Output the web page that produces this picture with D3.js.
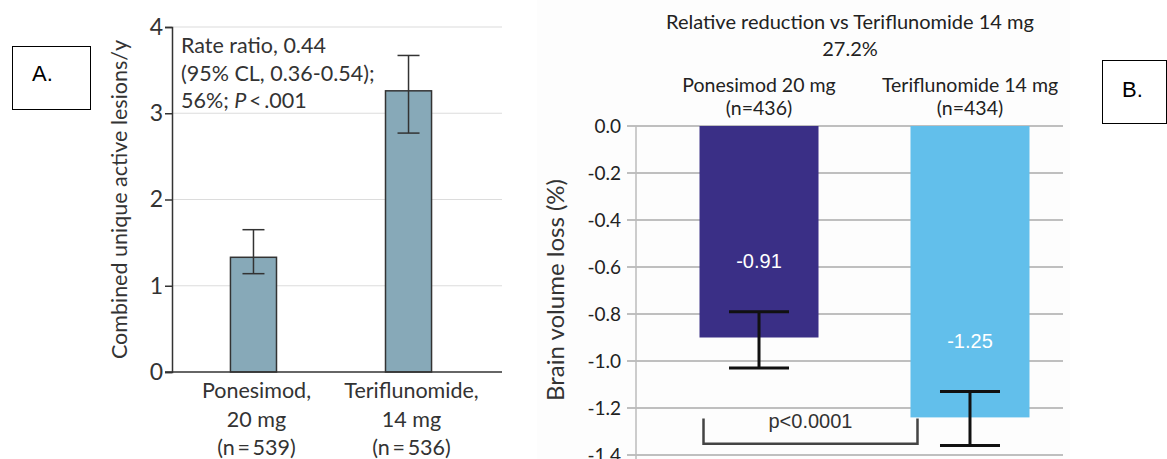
<!DOCTYPE html>
<html>
<head>
<meta charset="utf-8">
<script src="https://cdn.jsdelivr.net/npm/d3@7"></script>
<style>
  body { margin: 0; background: #fff; }
  svg { display: block; }
</style>
</head>
<body>
<div id="chart"></div>
<script>
// panel A data
var groupsA = ["Ponesimod", "Teriflunomide"]
var labelsA = [["Ponesimod,", "20 mg", "(n\u2009=\u2009539)"], ["Teriflunomide,", "14 mg", "(n\u2009=\u2009536)"]]
var ratesA = [1.33, 3.26]
var lowA = [1.14, 2.77]
var highA = [1.65, 3.67]
var ticksA = [0, 1, 2, 3, 4]
var noteA = ["Rate ratio, 0.44", "(95% CL, 0.36-0.54);", "56%; "]

// panel B data
var groupsB = ["Ponesimod 20 mg", "Teriflunomide 14 mg"]
var countsB = ["(n=436)", "(n=434)"]
var lossB = [-0.90, -1.24]
var valueLabelsB = ["-0.91", "-1.25"]
var lowB = [-1.03, -1.36]
var highB = [-0.79, -1.13]
var ticksB = [0, -0.2, -0.4, -0.6, -0.8, -1.0, -1.2, -1.4]
var titleB = ["Relative reduction vs Teriflunomide 14 mg", "27.2%"]
var pText = "p<0.0001"

var W = 1167, H = 459
var fontA = "Lato, 'Open Sans', sans-serif"
var fontB = "Lato, 'Open Sans', sans-serif"
var arial = "'Liberation Sans', Arial, sans-serif"

var svg = d3.select("#chart").append("svg")
    .attr("width", W)
    .attr("height", H)

// ---------- panel A ----------
var yA = d3.scaleLinear().domain([0, 4]).range([372, 27])
var xA = d3.scaleBand().domain(groupsA).range([172, 490])
    .paddingInner(0.703).paddingOuter(0.377)
var gA = svg.append("g")

// grid
gA.append("g").selectAll("line")
    .data(ticksA.filter(d => d > 0))
    .enter().append("line")
    .attr("x1", 172).attr("x2", 502)
    .attr("y1", d => yA(d)).attr("y2", d => yA(d))
    .attr("stroke", "#dcdcdc").attr("stroke-width", 1.2)

// bars
gA.append("g").selectAll("rect")
    .data(groupsA)
    .enter().append("rect")
    .attr("x", d => xA(d))
    .attr("width", xA.bandwidth())
    .attr("y", (d, i) => yA(ratesA[i]))
    .attr("height", (d, i) => yA(0) - yA(ratesA[i]))
    .attr("fill", "#87a9b8")
    .attr("stroke", "#333").attr("stroke-width", 1.5)

// error bars
var errA = gA.append("g").selectAll("g")
    .data(groupsA)
    .enter().append("g")
    .attr("stroke", "#333").attr("stroke-width", 1.5)
errA.append("line")
    .attr("x1", d => xA(d) + xA.bandwidth() / 2).attr("x2", d => xA(d) + xA.bandwidth() / 2)
    .attr("y1", (d, i) => yA(lowA[i])).attr("y2", (d, i) => yA(highA[i]))
errA.append("line")
    .attr("x1", d => xA(d) + xA.bandwidth() / 2 - 11).attr("x2", d => xA(d) + xA.bandwidth() / 2 + 11)
    .attr("y1", (d, i) => yA(lowA[i])).attr("y2", (d, i) => yA(lowA[i]))
errA.append("line")
    .attr("x1", d => xA(d) + xA.bandwidth() / 2 - 11).attr("x2", d => xA(d) + xA.bandwidth() / 2 + 11)
    .attr("y1", (d, i) => yA(highA[i])).attr("y2", (d, i) => yA(highA[i]))

// y axis
var axA = gA.append("g")
    .attr("transform", "translate(172,0)")
    .call(d3.axisLeft(yA).tickValues(ticksA).tickFormat(d3.format("d")).tickSize(7).tickPadding(2))
axA.select(".domain").attr("stroke", "#333").attr("stroke-width", 1.5)
axA.selectAll(".tick line").attr("stroke", "#333").attr("stroke-width", 1.5)
axA.selectAll(".tick text")
    .attr("font-family", fontA).attr("font-size", 23).attr("fill", "#333")

// baseline
gA.append("line")
    .attr("x1", 165).attr("x2", 502)
    .attr("y1", yA(0)).attr("y2", yA(0))
    .attr("stroke", "#333").attr("stroke-width", 1.5)

// y label
gA.append("text")
    .attr("transform", "translate(127," + ((yA(0) + yA(4)) / 2) + ") rotate(-90)")
    .attr("text-anchor", "middle")
    .attr("font-family", fontA).attr("font-size", 21.5).attr("fill", "#333")
    .text("Combined unique active lesions/y")

// x labels
gA.append("g").selectAll("text")
    .data(groupsA)
    .enter().append("text")
    .attr("text-anchor", "middle")
    .attr("font-family", fontA).attr("font-size", 21.5).attr("fill", "#333")
    .each(function(d, i){
        var t = d3.select(this)
        labelsA[i].forEach(function(line, k){
            t.append("tspan")
                .attr("x", xA(d) + xA.bandwidth() / 2 + 3)
                .attr("y", 398 + k * 28.5)
                .text(line)
        })
    })

// annotation
var note = gA.append("text")
    .attr("font-family", fontA).attr("font-size", 21.5).attr("fill", "#333")
noteA.forEach(function(line, k){
    note.append("tspan").attr("x", 181).attr("y", 53 + k * 27.5).text(line)
})
note.append("tspan").attr("font-style", "italic").text("P")
note.append("tspan").text("\u2009<\u2009.001")

// box A
svg.append("rect")
    .attr("x", 12.5).attr("y", 46.5).attr("width", 78).attr("height", 63)
    .attr("fill", "none").attr("stroke", "#000").attr("stroke-width", 1)
svg.append("text")
    .attr("x", 32).attr("y", 81)
    .attr("font-family", arial).attr("font-size", 22).attr("fill", "#000")
    .text("A.")

// ---------- panel B ----------
var yB = d3.scaleLinear().domain([0, -1.4]).range([126, 455])
var xB = d3.scaleBand().domain(groupsB).range([636, 1093])
    .paddingInner(0.436).paddingOuter(0.301)
var gB = svg.append("g")

gB.append("rect")
    .attr("x", 537).attr("y", 0).attr("width", 533).attr("height", H)
    .attr("fill", "#fdfdfd")

// grid
gB.append("g").selectAll("line")
    .data(ticksB)
    .enter().append("line")
    .attr("x1", 627).attr("x2", 1063)
    .attr("y1", d => yB(d)).attr("y2", d => yB(d))
    .attr("stroke", "#aaa").attr("stroke-width", 1.5)

gB.append("line")
    .attr("x1", 636).attr("x2", 636)
    .attr("y1", yB(0)).attr("y2", H)
    .attr("stroke", "#bbb").attr("stroke-width", 1.5)

// tick labels
gB.append("g").selectAll("text")
    .data(ticksB)
    .enter().append("text")
    .attr("x", 621)
    .attr("y", d => yB(d))
    .attr("dy", "0.35em")
    .attr("text-anchor", "end")
    .attr("font-family", fontB).attr("font-size", 19).attr("fill", "#222")
    .text(d => d.toFixed(1))

// bars
var colorsB = d3.scaleOrdinal().domain(groupsB).range(["#3a2f86", "#62bfeb"])
gB.append("g").selectAll("rect")
    .data(groupsB)
    .enter().append("rect")
    .attr("x", d => xB(d))
    .attr("width", xB.bandwidth())
    .attr("y", yB(0))
    .attr("height", (d, i) => yB(lossB[i]) - yB(0))
    .attr("fill", d => colorsB(d))

// value labels
gB.append("g").selectAll("text")
    .data(groupsB)
    .enter().append("text")
    .attr("x", d => xB(d) + xB.bandwidth() / 2)
    .attr("y", (d, i) => yB(highB[i]) - 44)
    .attr("text-anchor", "middle")
    .attr("font-family", arial).attr("font-size", 20).attr("fill", "#fff")
    .text((d, i) => valueLabelsB[i])

// error bars
var errB = gB.append("g").selectAll("g")
    .data(groupsB)
    .enter().append("g")
    .attr("stroke", "#111").attr("stroke-width", 3)
errB.append("line")
    .attr("x1", d => xB(d) + xB.bandwidth() / 2).attr("x2", d => xB(d) + xB.bandwidth() / 2)
    .attr("y1", (d, i) => yB(lowB[i])).attr("y2", (d, i) => yB(highB[i]))
errB.append("line")
    .attr("x1", d => xB(d) + xB.bandwidth() / 2 - 30).attr("x2", d => xB(d) + xB.bandwidth() / 2 + 30)
    .attr("y1", (d, i) => yB(lowB[i])).attr("y2", (d, i) => yB(lowB[i]))
errB.append("line")
    .attr("x1", d => xB(d) + xB.bandwidth() / 2 - 30).attr("x2", d => xB(d) + xB.bandwidth() / 2 + 30)
    .attr("y1", (d, i) => yB(highB[i])).attr("y2", (d, i) => yB(highB[i]))

// significance bracket
var bl = xB(groupsB[0]) + 4, br = xB(groupsB[1]) + 7
gB.append("path")
    .attr("d", "M" + bl + "," + yB(-1.245) + "V" + yB(-1.352) + "H" + br + "V" + yB(-1.245))
    .attr("fill", "none").attr("stroke", "#444").attr("stroke-width", 2.5)
gB.append("text")
    .attr("x", (bl + br) / 2).attr("y", 428)
    .attr("text-anchor", "middle")
    .attr("font-family", arial).attr("font-size", 20).attr("fill", "#333")
    .text(pText)

// y label
gB.append("text")
    .attr("transform", "translate(564," + 290 + ") rotate(-90)")
    .attr("text-anchor", "middle")
    .attr("font-family", fontB).attr("font-size", 24).attr("fill", "#333")
    .text("Brain volume loss (%)")

// category headers
gB.append("g").selectAll("text")
    .data(groupsB)
    .enter().append("text")
    .attr("text-anchor", "middle")
    .attr("font-family", fontB).attr("font-size", 19.5).attr("fill", "#222")
    .each(function(d, i){
        var t = d3.select(this)
        t.append("tspan").attr("x", xB(d) + xB.bandwidth() / 2).attr("y", 92).text(d)
        t.append("tspan").attr("x", xB(d) + xB.bandwidth() / 2).attr("y", 115).text(countsB[i])
    })

// title
gB.append("text")
    .attr("text-anchor", "middle")
    .attr("font-family", fontB).attr("font-size", 20).attr("fill", "#222")
    .selectAll("tspan")
    .data(titleB)
    .enter().append("tspan")
    .attr("x", 850)
    .attr("y", (d, i) => 29 + i * 27)
    .text(d => d)

// box B
svg.append("rect")
    .attr("x", 1102.5).attr("y", 60.5).attr("width", 64).attr("height", 63)
    .attr("fill", "none").attr("stroke", "#000").attr("stroke-width", 1)
svg.append("text")
    .attr("x", 1122).attr("y", 97)
    .attr("font-family", arial).attr("font-size", 22).attr("fill", "#000")
    .text("B.")
</script>
</body>
</html>
